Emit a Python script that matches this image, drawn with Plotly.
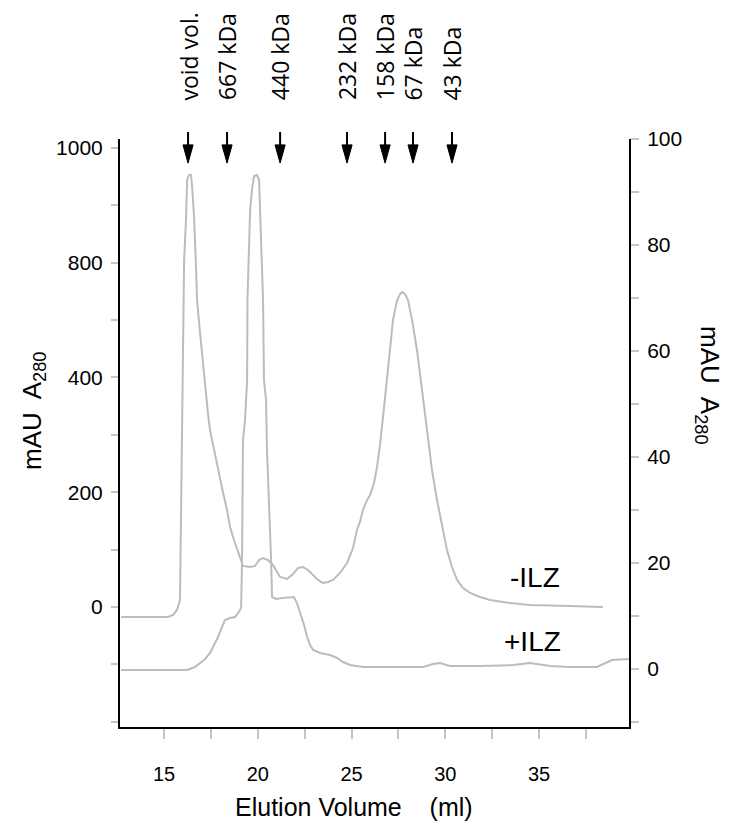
import plotly.graph_objects as go

# --- Data ---
# -ILZ trace, elution volume (ml) and A280 on the left axis (mAU)
ML_MINUS = [12.71, 15.21, 15.48, 15.69, 15.85, 15.91, 15.96, 16.01, 16.07, 16.17, 16.23, 16.33,
            16.44, 16.49, 16.60, 16.71, 16.76, 16.92, 17.03, 17.13, 17.24, 17.35, 17.45, 17.56,
            17.72, 17.83, 17.99, 18.15, 18.36, 18.52, 18.73, 18.95, 19.11, 19.21, 19.59, 19.85,
            20.07, 20.28, 20.55, 20.81, 21.03, 21.19, 21.56, 21.88, 22.15, 22.41, 22.68, 22.95,
            23.21, 23.48, 23.75, 24.01, 24.39, 24.76, 25.08, 25.29, 25.45, 25.61, 25.83, 25.99,
            26.20, 26.36, 26.52, 26.68, 26.84, 27.05, 27.21, 27.43, 27.59, 27.69, 27.85, 28.01,
            28.23, 28.49, 28.76, 29.03, 29.29, 29.56, 29.83, 30.09, 30.36, 30.63, 30.95, 31.32,
            31.85, 32.39, 33.45, 34.52, 36.65, 38.41]
A280_MINUS = [-17.4, -17.4, -13.9, -5.2, 12.2, 186.5, 360.8, 535.1, 604.8, 674.5, 744.2, 753.0,
              753.0, 735.5, 681.5, 587.4, 535.1, 477.6, 439.2, 404.4, 360.8, 334.7, 308.5, 291.1,
              264.9, 244.0, 221.4, 198.7, 169.1, 139.4, 116.8, 94.1, 78.4, 71.5, 69.7, 71.5,
              81.9, 85.4, 81.9, 73.2, 61.0, 52.3, 48.8, 57.5, 68.0, 69.7, 64.5, 55.8,
              47.1, 41.8, 43.6, 47.1, 59.3, 76.7, 102.8, 134.2, 148.2, 169.1, 186.5, 195.2,
              216.1, 244.0, 282.4, 331.2, 386.9, 447.9, 500.2, 535.1, 545.6, 549.0, 545.6, 535.1,
              500.2, 447.9, 378.2, 303.3, 238.8, 186.5, 139.4, 99.4, 69.7, 47.1, 33.1, 24.4,
              17.4, 12.2, 7.0, 3.5, 1.7, 0.0]

# +ILZ trace, elution volume (ml) and A280 on the right axis (mAU)
ML_PLUS = [12.71, 16.23, 16.65, 16.92, 17.19, 17.45, 17.67, 17.88, 18.09, 18.25, 18.52, 18.79,
           18.95, 19.11, 19.16, 19.21, 19.32, 19.43, 19.45, 19.53, 19.59, 19.69, 19.80, 19.96,
           20.07, 20.12, 20.23, 20.28, 20.33, 20.44, 20.49, 20.60, 20.71, 20.76, 20.97, 21.29,
           21.72, 21.93, 22.09, 22.25, 22.47, 22.63, 22.79, 22.95, 23.32, 23.85, 24.23, 24.55,
           24.92, 25.61, 27.59, 28.81, 29.35, 29.72, 30.25, 31.85, 33.61, 34.52, 35.59, 36.65,
           38.09, 38.52, 38.89, 39.80]
A280_PLUS = [-0.19, -0.19, 0.38, 1.13, 1.89, 3.02, 4.53, 6.04, 7.92, 9.25, 9.62, 9.81,
             10.57, 11.51, 20.57, 43.21, 46.98, 54.53, 69.62, 79.06, 86.60, 90.38, 93.02, 93.21,
             92.26, 86.60, 77.17, 69.62, 54.53, 50.75, 41.32, 31.89, 20.57, 13.58, 13.21, 13.40,
             13.58, 13.58, 12.45, 10.75, 8.30, 6.04, 4.53, 3.58, 3.02, 2.64, 2.08, 1.32,
             0.75, 0.38, 0.38, 0.38, 0.94, 1.13, 0.57, 0.57, 0.75, 1.13, 0.57, 0.38,
             0.38, 1.13, 1.70, 1.89]

# size standards
STANDARD_ML = [16.28, 18.36, 21.19, 24.76, 26.79, 28.28, 30.36]
STANDARD_LABELS = ["void vol.", "667 kDa", "440 kDa", "232 kDa", "158 kDa", "67 kDa", "43 kDa"]

LEFT_TICKS = [0, 200, 400, 600, 800]
LEFT_TICK_TEXT = ["0", "200", "400", "800", "1000"]

# --- Style ---
LINE_GREY = "#bcbcbc"
TICK_GREY = "#c4c4c4"
FONT = "Liberation Sans, Arial, sans-serif"
LABEL_FONT = "Open Sans, Noto Sans, sans-serif"

fig = go.Figure()

fig.add_trace(go.Scatter(x=ML_MINUS, y=A280_MINUS, mode="lines", name="-ILZ",
                         line=dict(color=LINE_GREY, width=2), yaxis="y"))
fig.add_trace(go.Scatter(x=ML_PLUS, y=A280_PLUS, mode="lines", name="+ILZ",
                         line=dict(color=LINE_GREY, width=2), yaxis="y2"))

annotations = []
shapes = []

# arrows + labels for the standards
half_w = 0.27  # head half-width in ml
for ml, label in zip(STANDARD_ML, STANDARD_LABELS):
    shapes.append(dict(type="line", xref="x", yref="paper", x0=ml, x1=ml, y0=1.012, y1=0.975,
                       line=dict(color="black", width=2)))
    shapes.append(dict(type="path", xref="x", yref="paper",
                       path=f"M {ml - half_w},0.990 L {ml + half_w},0.990 L {ml},0.959 Z",
                       fillcolor="black", line=dict(color="black", width=1)))
    annotations.append(dict(x=ml, y=1.062, xref="x", yref="paper", text=label, showarrow=False,
                            textangle=-90, xanchor="center", yanchor="bottom",
                            font=dict(family=LABEL_FONT, size=23, color="black")))

# trace labels
annotations.append(dict(x=34.79, y=0.254, xref="x", yref="paper", text="-ILZ", showarrow=False,
                        xanchor="center", yanchor="middle",
                        font=dict(family=FONT, size=28, color="black")))
annotations.append(dict(x=34.63, y=0.146, xref="x", yref="paper", text="+ILZ", showarrow=False,
                        xanchor="center", yanchor="middle",
                        font=dict(family=FONT, size=28, color="black")))

# axis titles
annotations.append(dict(x=-0.171, y=0.539, xref="paper", yref="paper",
                        xanchor="center", yanchor="middle",
                        text="mAU  A<sub>280</sub>", showarrow=False, textangle=-90,
                        font=dict(family=FONT, size=26, color="black")))
annotations.append(dict(x=1.155, y=0.58, xref="paper", yref="paper",
                        xanchor="center", yanchor="middle",
                        text="mAU  A<sub>280</sub>", showarrow=False, textangle=90,
                        font=dict(family=FONT, size=26, color="black")))
annotations.append(dict(x=0.46, y=-0.136, xref="paper", yref="paper",
                        xanchor="center", yanchor="middle",
                        text="Elution Volume &nbsp; &nbsp;(ml)", showarrow=False,
                        font=dict(family=FONT, size=25, color="black")))

# page body keeps an 8px margin, so the figure is sized to fit inside the window
fig.update_layout(
    width=744, height=828,
    margin=dict(l=112, r=123, t=131, b=109),
    paper_bgcolor="white", plot_bgcolor="white",
    showlegend=False,
    font=dict(family=FONT, color="black"),
    xaxis=dict(range=[12.65, 39.8], tick0=0, dtick=5, ticks="outside", ticklen=10,
               tickcolor=TICK_GREY, tickwidth=2,
               minor=dict(dtick=2.5, tick0=0, ticks="outside", ticklen=10, tickcolor=TICK_GREY,
                          tickwidth=2),
               showline=True, linecolor="black", linewidth=2, showgrid=False, zeroline=False,
               tickfont=dict(size=20), ticklabelstandoff=18),
    yaxis=dict(range=[-209.2, 815.7], tickmode="array", tickvals=LEFT_TICKS,
               ticktext=LEFT_TICK_TEXT, ticks="outside", ticklen=7, tickcolor=TICK_GREY,
               tickwidth=2,
               minor=dict(dtick=100, tick0=0, ticks="outside", ticklen=7, tickcolor=TICK_GREY,
                          tickwidth=2),
               showline=True, linecolor="black", linewidth=2, showgrid=False, zeroline=False,
               tickfont=dict(size=21), ticklabelstandoff=4),
    yaxis2=dict(range=[-10.94, 100], overlaying="y", side="right", tick0=0, dtick=20,
                ticks="outside", ticklen=8, tickcolor=TICK_GREY, tickwidth=2,
                minor=dict(dtick=10, tick0=0, ticks="outside", ticklen=8, tickcolor=TICK_GREY,
                           tickwidth=2),
                showline=True, linecolor="black", linewidth=2, showgrid=False, zeroline=False,
                tickfont=dict(size=21), ticklabelstandoff=4),
    annotations=annotations,
    shapes=shapes,
)

fig.write_html("out.html")
